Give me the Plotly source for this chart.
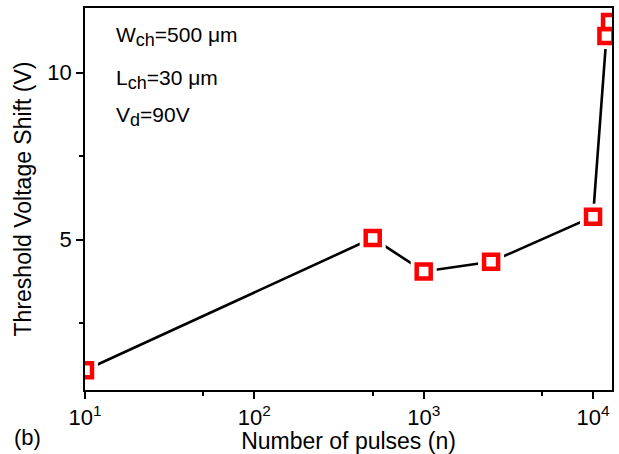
import plotly.graph_objects as go

pulses = [10, 500, 1000, 2500, 10000, 12000, 12600]
shift_v = [1.09, 5.05, 4.05, 4.34, 5.69, 11.1, 11.52]

x_tick_vals = [10, 100, 1000, 10000]
x_tick_text = ["10<sup>1</sup>", "10<sup>2</sup>", "10<sup>3</sup>", "10<sup>4</sup>"]
x_minor_vals = [50, 500, 5000]
y_tick_vals = [5, 10]
y_minor_vals = [2.5, 7.5]

SUB = '<sub><span style="font-size:18px">{}</span></sub>'
annotations_text = ["W" + SUB.format("ch") + "=500 \u03bcm",
                    "L" + SUB.format("ch") + "=30 \u03bcm",
                    "V" + SUB.format("d") + "=90V"]
annotations_y = [11.1, 9.8, 8.7]

font_family = "Liberation Sans, Arial, sans-serif"

fig = go.Figure()
fig.add_trace(go.Scatter(x=pulses, y=shift_v, mode="lines",
                         line=dict(color="black", width=2.6), showlegend=False))
fig.add_trace(go.Scatter(x=pulses, y=shift_v, mode="markers",
                         marker=dict(symbol="square", size=26, color="white",
                                     line=dict(width=0)), showlegend=False))
fig.add_trace(go.Scatter(x=pulses, y=shift_v, mode="markers",
                         marker=dict(symbol="square", size=14, color="white",
                                     line=dict(color="#ff0000", width=4.5)),
                         showlegend=False))

for t, yv in zip(annotations_text, annotations_y):
    fig.add_annotation(x=0.055, xref="paper", y=yv, yref="y", text=t,
                       showarrow=False, xanchor="left", yanchor="middle",
                       font=dict(size=21, color="black", family=font_family))

fig.add_annotation(x=-0.138, xref="paper", y=-0.125, yref="paper", text="(b)",
                   showarrow=False, xanchor="left", yanchor="middle",
                   font=dict(size=22, color="black", family=font_family))

axis_common = dict(showline=True, linecolor="black", linewidth=1.5, mirror=True,
                   ticks="outside", ticklen=7, tickwidth=1.5, tickcolor="black",
                   showgrid=False, zeroline=False,
                   tickfont=dict(size=22, color="black", family=font_family))

fig.update_xaxes(type="log", range=[1, 4.112], tickvals=x_tick_vals, ticktext=x_tick_text,
                 minor=dict(tickvals=x_minor_vals, ticks="outside", ticklen=4,
                            tickwidth=1.5, tickcolor="black"),
                 title=dict(text="Number of pulses (n)", standoff=0,
                            font=dict(size=23, color="black", family=font_family)),
                 **axis_common)
fig.update_yaxes(range=[0.5, 11.94], tickvals=y_tick_vals,
                 minor=dict(tickvals=y_minor_vals, ticks="outside", ticklen=4,
                            tickwidth=1.5, tickcolor="black"),
                 title=dict(text="Threshold Voltage Shift (V)", standoff=9,
                            font=dict(size=23, color="black", family=font_family)),
                 **axis_common)

fig.update_layout(width=619, height=454, margin=dict(l=85, r=5, t=8, b=64),
                  plot_bgcolor="white", paper_bgcolor="white")

fig.write_html("out.html")
